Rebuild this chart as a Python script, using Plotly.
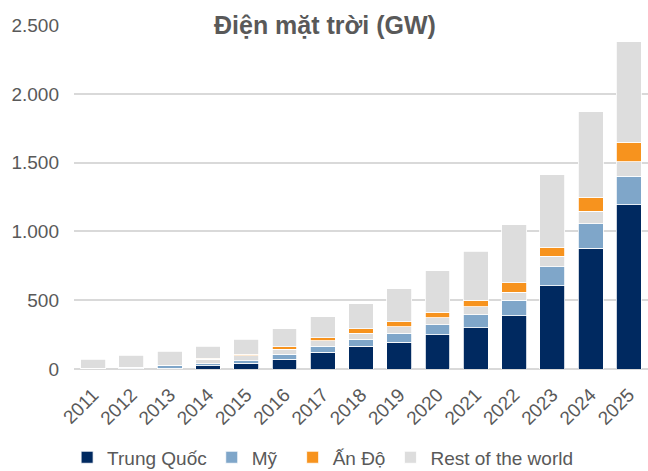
import plotly.graph_objects as go

years = ["2011", "2012", "2013", "2014", "2015", "2016", "2017", "2018",
         "2019", "2020", "2021", "2022", "2023", "2024", "2025"]
trung_quoc = [3, 7, 7, 24, 41, 70, 121, 167, 196, 249, 299, 389, 604, 877, 1195]
my = [4, 7, 17, 14, 19, 36, 43, 51, 65, 72, 97, 111, 140, 179, 208]
rest_lower = [0, 0, 0, 34, 36, 39, 43, 43, 46, 51, 56, 58, 75, 92, 104]
an_do = [0, 0, 2, 7, 10, 17, 19, 31, 36, 39, 48, 68, 68, 101, 142]
rest_upper = [63, 87, 102, 87, 111, 130, 155, 184, 239, 304, 357, 423, 524, 623, 732]

C_CN = "#002960"
C_US = "#7FA6C9"
C_IN = "#F7931E"
C_RW = "#DDDDDD"
FONT = "Arial, Liberation Sans, sans-serif"
TXT = "#595959"

fig = go.Figure()
line = dict(color="white", width=0.8)
fig.add_bar(x=years, y=trung_quoc, name="Trung Quốc", marker=dict(color=C_CN, line=line))
fig.add_bar(x=years, y=my, name="Mỹ\u00a0\u00a0", marker=dict(color=C_US, line=line))
fig.add_bar(x=years, y=rest_lower, name="Rest of the world", legendgroup="rw",
            showlegend=False, marker=dict(color=C_RW, line=line))
fig.add_bar(x=years, y=an_do, name="Ấn Độ", marker=dict(color=C_IN, line=line))
fig.add_bar(x=years, y=rest_upper, name="Rest of the world", legendgroup="rw",
            marker=dict(color=C_RW, line=line))

fig.update_layout(
    width=648, height=471,
    barmode="stack", bargap=0.35,
    separators=",.",
    margin=dict(l=74, r=0, t=25, b=101.5, autoexpand=False),
    plot_bgcolor="white", paper_bgcolor="white",
    font=dict(family=FONT, size=19, color=TXT),
    legend=dict(orientation="h", x=-0.012, xanchor="left", y=-0.257, yanchor="middle",
                font=dict(size=19, color=TXT), traceorder="normal",
                itemclick=False),
    annotations=[dict(text="<b>Điện mặt trời (GW)</b>", x=0.437, y=1.0,
                      xref="paper", yref="paper", xanchor="center", yanchor="middle",
                      showarrow=False, bgcolor="white", borderpad=3,
                      font=dict(family=FONT, size=25, color=TXT))],
)
fig.update_yaxes(range=[0, 2501], dtick=500, tickformat=",d", showgrid=True,
                 gridcolor="#D9D9D9", gridwidth=1.5, zeroline=True,
                 zerolinecolor="#D9D9D9", zerolinewidth=2, automargin=False,
                 ticklabelstandoff=14, tickfont=dict(size=19, color=TXT))
fig.update_xaxes(tickangle=-45, showline=False, automargin=False,
                 ticklabelstandoff=10, tickfont=dict(size=19, color=TXT))

fig.write_html("out.html", config={"displayModeBar": False})

# remove the browser's default page margin so the figure sits at the window's corner
with open("out.html", "r", encoding="utf-8") as f:
    html = f.read()
html = html.replace("<body>", '<body style="margin:0;padding:0;overflow:hidden">', 1)
with open("out.html", "w", encoding="utf-8") as f:
    f.write(html)
